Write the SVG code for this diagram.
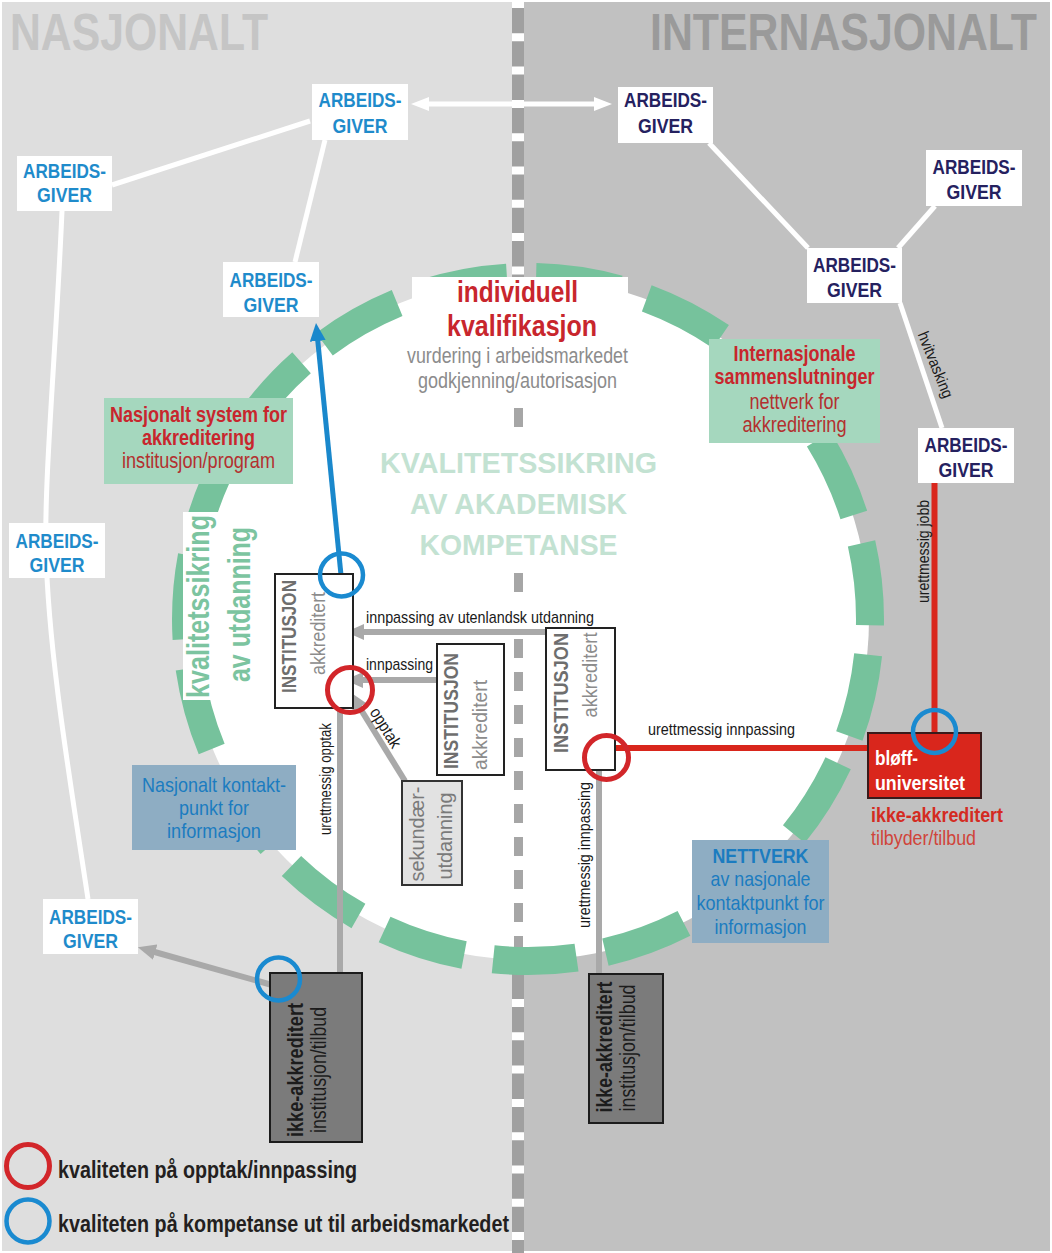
<svg xmlns="http://www.w3.org/2000/svg" width="1052" height="1253" viewBox="0 0 1052 1253">
<defs>
<style>
text{font-family:"Liberation Sans Narrow","Arial Narrow","Liberation Sans",Arial,sans-serif}
.b{font-weight:bold}
.ag{font-size:21px;font-weight:bold;text-anchor:middle}
.agn{fill:#1f8bcb}
.agi{fill:#25215f}
.box{fill:#fff}
.inst{fill:#fff;stroke:#222;stroke-width:2}
.gl{stroke:#a9a9a9;stroke-width:6;fill:none}
.wl{stroke:#fff;stroke-width:5;fill:none}
.lbl{font-size:17px;fill:#1a1a1a}
.red{fill:#c8262d}
.redn{fill:#b3302f}
.blu{fill:#1b7cc0}
.rc{fill:none;stroke:#d2262a;stroke-width:5}
.bc{fill:none;stroke:#1a8ad0;stroke-width:4.5}
.ig{fill:#6e6e6e;font-size:20px;font-weight:bold}
.ia{fill:#8c8c8c;font-size:21px}
.ik{fill:#7b7b7b;stroke:#1c1c1c;stroke-width:2}
.gb{fill:#a5d7be}
.bb{fill:#8eadc3}
</style>
<marker id="ahg" viewBox="0 0 18 16" refX="8" refY="8" markerWidth="18" markerHeight="16" markerUnits="userSpaceOnUse" orient="auto"><path d="M0,0 L18,8 L0,16 z" fill="#a9a9a9"/></marker>
<marker id="ahr" viewBox="0 0 18 16" refX="8" refY="8" markerWidth="18" markerHeight="16" markerUnits="userSpaceOnUse" orient="auto"><path d="M0,0 L18,8 L0,16 z" fill="#d9261c"/></marker>
<marker id="ahb" viewBox="0 0 18 16" refX="8" refY="8" markerWidth="18" markerHeight="16" markerUnits="userSpaceOnUse" orient="auto"><path d="M0,0 L18,8 L0,16 z" fill="#1a88cc"/></marker>
<marker id="ahw" viewBox="0 0 18 14" refX="8" refY="7" markerWidth="18" markerHeight="14" markerUnits="userSpaceOnUse" orient="auto-start-reverse"><path d="M0,0 L18,7 L0,14 z" fill="#fff"/></marker>
</defs>

<g id="background">
<rect x="0" y="0" width="1052" height="1253" fill="#fff"/>
<rect x="2" y="2" width="516" height="1249" fill="#dedede"/>
<rect x="518" y="2" width="532" height="1249" fill="#c1c1c1"/>
<rect x="512" y="0" width="12" height="1253" fill="#a0a0a0"/>
<line x1="518" y1="0" x2="518" y2="1253" stroke="#fff" stroke-width="12" stroke-dasharray="8 25.3"/>
<text x="10" y="50" font-size="51" class="b" fill="#c5c5c5" textLength="258" lengthAdjust="spacingAndGlyphs">NASJONALT</text>
<text x="1037" y="50" font-size="51" class="b" fill="#9a9a9a" text-anchor="end" textLength="387" lengthAdjust="spacingAndGlyphs">INTERNASJONALT</text>
</g>

<g id="circle">
<circle cx="528" cy="619" r="341" fill="#fff"/>
<path d="M518.5,408 V428 M518.5,573 V592 M518.5,639 V955" stroke="#a6a6a6" stroke-width="9" stroke-dasharray="19 14" fill="none"/>
<circle cx="528" cy="619" r="342" fill="none" stroke="#76c29c" stroke-width="28" stroke-dasharray="83.7 29.4" stroke-dashoffset="-35.8"/>
</g>

<g id="individuell">
<rect x="412" y="277" width="216" height="125" fill="#fff"/>
<text x="517.5" y="302" font-size="30" class="b red" text-anchor="middle" textLength="121" lengthAdjust="spacingAndGlyphs">individuell</text>
<text x="522" y="336" font-size="30" class="b red" text-anchor="middle" textLength="150" lengthAdjust="spacingAndGlyphs">kvalifikasjon</text>
<text x="517.5" y="363" font-size="21.5" fill="#8c8c8c" text-anchor="middle" textLength="221" lengthAdjust="spacingAndGlyphs">vurdering i arbeidsmarkedet</text>
<text x="517.5" y="388" font-size="21.5" fill="#8c8c8c" text-anchor="middle" textLength="199" lengthAdjust="spacingAndGlyphs">godkjenning/autorisasjon</text>
</g>

<g id="kvalitetssikring-akademisk">
<text x="518.5" y="473" font-size="30" class="b" fill="#c3e2d2" text-anchor="middle" textLength="277" lengthAdjust="spacingAndGlyphs">KVALITETSSIKRING</text>
<text x="518.5" y="514" font-size="30" class="b" fill="#c3e2d2" text-anchor="middle" textLength="217" lengthAdjust="spacingAndGlyphs">AV AKADEMISK</text>
<text x="518.5" y="555" font-size="30" class="b" fill="#c3e2d2" text-anchor="middle" textLength="198" lengthAdjust="spacingAndGlyphs">KOMPETANSE</text>
</g>

<g id="connectors">
<path class="wl" d="M421,104 H602" marker-start="url(#ahw)" marker-end="url(#ahw)" stroke-width="4"/>
<path class="wl" d="M310,121 L112,185"/>
<path class="wl" d="M325,140 L295,262"/>
<path class="wl" d="M62,211 C56,350 44,480 46,550 C48,650 70,780 88,899"/>
<path class="wl" d="M709,143 L808,248"/>
<path class="wl" d="M898,248 L935,206"/>
<path class="wl" d="M900,303 L942,428"/>
<text transform="translate(930.5,366.8) rotate(68)" font-size="16" fill="#1a1a1a" text-anchor="middle" textLength="70" lengthAdjust="spacingAndGlyphs">hvitvasking</text>
<path d="M934.5,483 V733" stroke="#d9261c" stroke-width="6" fill="none"/>
<text transform="translate(928.5,551.5) rotate(-90)" class="lbl" text-anchor="middle" textLength="103" lengthAdjust="spacingAndGlyphs">urettmessig jobb</text>
<path d="M868,748 H607" stroke="#d9261c" stroke-width="6" fill="none" marker-end="url(#ahr)"/>
<text x="648" y="735" class="lbl" textLength="147" lengthAdjust="spacingAndGlyphs">urettmessig innpassing</text>
<path class="gl" d="M599,974 V762" marker-end="url(#ahg)"/>
<text transform="translate(589.5,855) rotate(-90)" class="lbl" text-anchor="middle" textLength="146" lengthAdjust="spacingAndGlyphs">urettmessig innpassing</text>
<path class="gl" d="M546,632 H356" marker-end="url(#ahg)"/>
<text x="366" y="623" class="lbl" textLength="228" lengthAdjust="spacingAndGlyphs">innpassing av utenlandsk utdanning</text>
<path class="gl" d="M438,680 H355" marker-end="url(#ahg)"/>
<text x="366" y="670" class="lbl" textLength="67" lengthAdjust="spacingAndGlyphs">innpassing</text>
<path class="gl" d="M405,781 L355.3,700.5" marker-end="url(#ahg)"/>
<text transform="translate(380.7,730.7) rotate(58.3)" class="lbl" text-anchor="middle" textLength="44" lengthAdjust="spacingAndGlyphs">opptak</text>
<path class="gl" d="M340,973 V698" marker-end="url(#ahg)"/>
<text transform="translate(330.5,779) rotate(-90)" class="lbl" text-anchor="middle" textLength="112" lengthAdjust="spacingAndGlyphs">urettmessig opptak</text>
<path class="gl" d="M272,985 L147.5,950" marker-end="url(#ahg)"/>
<path d="M341,575 L317,333" stroke="#1a88cc" stroke-width="5" fill="none" marker-end="url(#ahb)"/>
</g>

<g id="ag-nat-top"><rect class="box" x="312" y="84" width="96" height="56"/><text class="ag agn" x="360" y="107.3" textLength="83" lengthAdjust="spacingAndGlyphs">ARBEIDS-</text><text class="ag agn" x="360" y="132.7" textLength="55" lengthAdjust="spacingAndGlyphs">GIVER</text></g>
<g id="ag-nat-left"><rect class="box" x="17" y="156" width="95" height="55"/><text class="ag agn" x="64.5" y="178" textLength="83" lengthAdjust="spacingAndGlyphs">ARBEIDS-</text><text class="ag agn" x="64.5" y="202" textLength="55" lengthAdjust="spacingAndGlyphs">GIVER</text></g>
<g id="ag-nat-inner"><rect class="box" x="223" y="262" width="96" height="55"/><text class="ag agn" x="271" y="287" textLength="83" lengthAdjust="spacingAndGlyphs">ARBEIDS-</text><text class="ag agn" x="271" y="312" textLength="55" lengthAdjust="spacingAndGlyphs">GIVER</text></g>
<g id="ag-nat-mid"><rect class="box" x="9" y="523" width="96" height="55"/><text class="ag agn" x="57" y="548" textLength="83" lengthAdjust="spacingAndGlyphs">ARBEIDS-</text><text class="ag agn" x="57" y="572" textLength="55" lengthAdjust="spacingAndGlyphs">GIVER</text></g>
<g id="ag-nat-bottom"><rect class="box" x="43" y="899" width="95" height="55"/><text class="ag agn" x="90.5" y="924" textLength="83" lengthAdjust="spacingAndGlyphs">ARBEIDS-</text><text class="ag agn" x="90.5" y="948" textLength="55" lengthAdjust="spacingAndGlyphs">GIVER</text></g>
<g id="ag-int-top"><rect class="box" x="618" y="87" width="95" height="56"/><text class="ag agi" x="665.5" y="107" textLength="83" lengthAdjust="spacingAndGlyphs">ARBEIDS-</text><text class="ag agi" x="665.5" y="133" textLength="55" lengthAdjust="spacingAndGlyphs">GIVER</text></g>
<g id="ag-int-right"><rect class="box" x="926" y="150" width="96" height="56"/><text class="ag agi" x="974" y="174" textLength="83" lengthAdjust="spacingAndGlyphs">ARBEIDS-</text><text class="ag agi" x="974" y="199" textLength="55" lengthAdjust="spacingAndGlyphs">GIVER</text></g>
<g id="ag-int-mid"><rect class="box" x="807" y="248" width="95" height="55"/><text class="ag agi" x="854.5" y="272" textLength="83" lengthAdjust="spacingAndGlyphs">ARBEIDS-</text><text class="ag agi" x="854.5" y="297" textLength="55" lengthAdjust="spacingAndGlyphs">GIVER</text></g>
<g id="ag-int-low"><rect class="box" x="918" y="428" width="96" height="55"/><text class="ag agi" x="966" y="452" textLength="83" lengthAdjust="spacingAndGlyphs">ARBEIDS-</text><text class="ag agi" x="966" y="477" textLength="55" lengthAdjust="spacingAndGlyphs">GIVER</text></g>

<g id="nasjonalt-system">
<rect class="gb" x="104" y="398" width="189" height="86"/>
<text x="198.5" y="422" font-size="22" class="b red" text-anchor="middle" textLength="177" lengthAdjust="spacingAndGlyphs">Nasjonalt system for</text>
<text x="198.5" y="445" font-size="22" class="b red" text-anchor="middle" textLength="113" lengthAdjust="spacingAndGlyphs">akkreditering</text>
<text x="198.5" y="468" font-size="22" class="redn" text-anchor="middle" textLength="153" lengthAdjust="spacingAndGlyphs">institusjon/program</text>
</g>

<g id="internasjonale">
<rect class="gb" x="709" y="339" width="171" height="104"/>
<text x="794.5" y="361" font-size="22" class="b red" text-anchor="middle" textLength="122" lengthAdjust="spacingAndGlyphs">Internasjonale</text>
<text x="794.5" y="384" font-size="22" class="b red" text-anchor="middle" textLength="160" lengthAdjust="spacingAndGlyphs">sammenslutninger</text>
<text x="794.5" y="409" font-size="22" class="redn" text-anchor="middle" textLength="90" lengthAdjust="spacingAndGlyphs">nettverk for</text>
<text x="794.5" y="432" font-size="22" class="redn" text-anchor="middle" textLength="104" lengthAdjust="spacingAndGlyphs">akkreditering</text>
</g>

<g id="kvalitetssikring-utdanning">
<rect x="183" y="512" width="74" height="188" fill="#fff"/>
<text transform="translate(209,606.5) rotate(-90)" font-size="31" class="b" fill="#7cc4a0" text-anchor="middle" textLength="183" lengthAdjust="spacingAndGlyphs">kvalitetssikring</text>
<text transform="translate(250,604.5) rotate(-90)" font-size="31" class="b" fill="#7cc4a0" text-anchor="middle" textLength="155" lengthAdjust="spacingAndGlyphs">av utdanning</text>
</g>

<g id="kontaktpunkt">
<rect class="bb" x="132" y="765" width="164" height="85"/>
<text x="214" y="792" font-size="21" class="blu" text-anchor="middle" textLength="144" lengthAdjust="spacingAndGlyphs">Nasjonalt kontakt-</text>
<text x="214" y="815" font-size="21" class="blu" text-anchor="middle" textLength="70" lengthAdjust="spacingAndGlyphs">punkt for</text>
<text x="214" y="838" font-size="21" class="blu" text-anchor="middle" textLength="94" lengthAdjust="spacingAndGlyphs">informasjon</text>
</g>

<g id="nettverk">
<rect class="bb" x="692" y="840" width="137" height="103"/>
<text x="760.5" y="863" font-size="21" class="b blu" text-anchor="middle" textLength="96" lengthAdjust="spacingAndGlyphs">NETTVERK</text>
<text x="760.5" y="886" font-size="21" class="blu" text-anchor="middle" textLength="100" lengthAdjust="spacingAndGlyphs">av nasjonale</text>
<text x="760.5" y="910" font-size="21" class="blu" text-anchor="middle" textLength="128" lengthAdjust="spacingAndGlyphs">kontaktpunkt for</text>
<text x="760.5" y="934" font-size="21" class="blu" text-anchor="middle" textLength="92" lengthAdjust="spacingAndGlyphs">informasjon</text>
</g>

<g id="inst-left">
<rect class="inst" x="275" y="574" width="78" height="134"/>
<text class="ig" transform="translate(296,636.5) rotate(-90)" text-anchor="middle" textLength="113" lengthAdjust="spacingAndGlyphs">INSTITUSJON</text>
<text class="ia" transform="translate(325,633.5) rotate(-90)" text-anchor="middle" textLength="83" lengthAdjust="spacingAndGlyphs">akkreditert</text>
</g>
<g id="inst-mid">
<rect class="inst" x="437" y="644" width="67" height="131"/>
<text class="ig" transform="translate(458,711) rotate(-90)" text-anchor="middle" textLength="116" lengthAdjust="spacingAndGlyphs">INSTITUSJON</text>
<text class="ia" transform="translate(487,725) rotate(-90)" text-anchor="middle" textLength="90" lengthAdjust="spacingAndGlyphs">akkreditert</text>
</g>
<g id="inst-right">
<rect class="inst" x="546" y="628" width="69" height="142"/>
<text class="ig" transform="translate(567.5,693) rotate(-90)" text-anchor="middle" textLength="120" lengthAdjust="spacingAndGlyphs">INSTITUSJON</text>
<text class="ia" transform="translate(597,675) rotate(-90)" text-anchor="middle" textLength="85" lengthAdjust="spacingAndGlyphs">akkreditert</text>
</g>

<g id="sekundaer">
<rect x="402" y="781" width="60" height="104" fill="#e2e2e2" stroke="#333" stroke-width="2"/>
<text transform="translate(424,834) rotate(-90)" font-size="21" fill="#7a7a7a" text-anchor="middle" textLength="95" lengthAdjust="spacingAndGlyphs">sekundær-</text>
<text transform="translate(452,836) rotate(-90)" font-size="21" fill="#7a7a7a" text-anchor="middle" textLength="87" lengthAdjust="spacingAndGlyphs">utdanning</text>
</g>

<g id="ikke-left">
<rect class="ik" x="270" y="973" width="92" height="169"/>
<text transform="translate(303,1070) rotate(-90)" font-size="22" class="b" fill="#1c1c1c" text-anchor="middle" textLength="134" lengthAdjust="spacingAndGlyphs">ikke-akkreditert</text>
<text transform="translate(326,1070) rotate(-90)" font-size="22" fill="#1c1c1c" text-anchor="middle" textLength="126" lengthAdjust="spacingAndGlyphs">institusjon/tilbud</text>
</g>
<g id="ikke-right">
<rect class="ik" x="589" y="974" width="74" height="149"/>
<text transform="translate(612,1047) rotate(-90)" font-size="22" class="b" fill="#1c1c1c" text-anchor="middle" textLength="131" lengthAdjust="spacingAndGlyphs">ikke-akkreditert</text>
<text transform="translate(635,1048) rotate(-90)" font-size="22" fill="#1c1c1c" text-anchor="middle" textLength="127" lengthAdjust="spacingAndGlyphs">institusjon/tilbud</text>
</g>

<g id="bloff">
<rect x="868" y="733" width="113" height="65" fill="#d9261c" stroke="#3a1a1a" stroke-width="2"/>
<text x="875" y="765" font-size="20" class="b" fill="#fff" textLength="43" lengthAdjust="spacingAndGlyphs">bløff-</text>
<text x="875" y="790" font-size="20" class="b" fill="#fff" textLength="90" lengthAdjust="spacingAndGlyphs">universitet</text>
<text x="871" y="822" font-size="20" class="b" fill="#d42b22" textLength="132" lengthAdjust="spacingAndGlyphs">ikke-akkreditert</text>
<text x="871" y="845" font-size="20" fill="#d0443a" textLength="105" lengthAdjust="spacingAndGlyphs">tilbyder/tilbud</text>
</g>

<g id="checkpoints">
<circle class="bc" cx="341.5" cy="575" r="21.5"/>
<circle class="rc" cx="350" cy="690" r="22.5"/>
<circle class="rc" cx="606.5" cy="757.5" r="22"/>
<circle class="bc" cx="934.5" cy="731.5" r="21.5"/>
<circle class="bc" cx="278.5" cy="979" r="21.5"/>
</g>

<g id="legend">
<circle class="rc" cx="28" cy="1166" r="21.5" stroke-width="4.5"/>
<circle class="bc" cx="28" cy="1221" r="21.5"/>
<text x="58" y="1178" font-size="24" class="b" fill="#231f20" textLength="299" lengthAdjust="spacingAndGlyphs">kvaliteten på opptak/innpassing</text>
<text x="58" y="1232" font-size="24" class="b" fill="#231f20" textLength="451" lengthAdjust="spacingAndGlyphs">kvaliteten på kompetanse ut til arbeidsmarkedet</text>
</g>
</svg>
